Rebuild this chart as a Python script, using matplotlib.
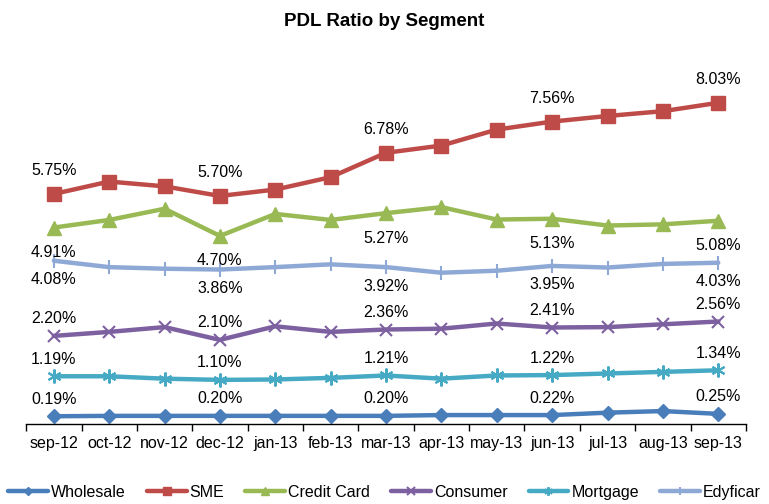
import numpy as np
import matplotlib.pyplot as plt

plt.rcParams['font.family'] = ['Liberation Sans', 'DejaVu Sans']

months = ['sep-12', 'oct-12', 'nov-12', 'dec-12', 'jan-13', 'feb-13', 'mar-13',
          'apr-13', 'may-13', 'jun-13', 'jul-13', 'aug-13', 'sep-13']

wholesale = [0.19, 0.20, 0.20, 0.20, 0.20, 0.20, 0.20, 0.22, 0.22, 0.22, 0.28, 0.32, 0.25]
sme = [5.75, 6.06, 5.94, 5.70, 5.86, 6.17, 6.78, 6.96, 7.36, 7.56, 7.70, 7.82, 8.03]
credit_card = [4.91, 5.10, 5.38, 4.70, 5.25, 5.10, 5.27, 5.42, 5.11, 5.13, 4.96, 4.99, 5.08]
consumer = [2.20, 2.30, 2.42, 2.10, 2.44, 2.30, 2.36, 2.38, 2.51, 2.41, 2.42, 2.49, 2.56]
mortgage = [1.19, 1.19, 1.13, 1.10, 1.11, 1.15, 1.21, 1.13, 1.21, 1.22, 1.26, 1.30, 1.34]
edyficar = [4.08, 3.92, 3.88, 3.86, 3.92, 3.99, 3.92, 3.78, 3.83, 3.95, 3.91, 4.00, 4.03]

labelled = [0, 3, 6, 9, 12]

# name, values, colour, marker, markersize, marker edge width, label offset (px)
series = [
    ('Wholesale', wholesale, '#4A7EBB', 'D', 7.5, 1.0, 17),
    ('SME', sme, '#BE4B48', 's', 10, 1.0, 23),
    ('Credit Card', credit_card, '#98B954', '^', 10, 1.0, -25),
    ('Consumer', consumer, '#7D60A0', 'x', 9, 1.5, 17),
    ('Mortgage', mortgage, '#46AAC5', (6, 2, 0), 10, 1.5, 17),
    ('Edyficar', edyficar, '#8FA9D6', '|', 10, 1.5, -19),
]

fig = plt.figure(figsize=(7.69, 5.04), dpi=100)
ax = fig.add_axes([0.034, 0.159, 0.936, 0.714])
x = np.arange(len(months))

for name, vals, col, mk, ms, mew, off in series:
    ax.plot(x, vals, color=col, lw=3.2, marker=mk, markersize=ms,
            markerfacecolor=col, markeredgecolor=col, markeredgewidth=mew,
            label=name, solid_capstyle='round')
    for i in labelled:
        ax.annotate(f'{vals[i]:.2f}%', (x[i], vals[i]), xytext=(0, off),
                    textcoords='offset pixels', ha='center', va='center',
                    fontsize=11.5, color='black')

ax.set_xlim(-0.5, 12.5)
ax.set_ylim(0, 9)
ax.set_xticks(x)
ax.set_xticklabels(months, fontsize=11.5)
ax.set_xticks(np.arange(-0.5, 13, 1), minor=True)
ax.tick_params(axis='x', which='major', length=0, pad=9)
ax.tick_params(axis='x', which='minor', length=5, width=1, direction='out')
ax.set_yticks([])
for s in ['left', 'top', 'right']:
    ax.spines[s].set_visible(False)
ax.spines['bottom'].set_linewidth(1)

fig.suptitle('PDL Ratio by Segment', fontsize=13.5, fontweight='bold', y=0.975)

fig.legend(loc='lower center', bbox_to_anchor=(0.5, -0.02), ncol=6, frameon=False,
           fontsize=11.5, handlelength=2.5, handletextpad=0.2, columnspacing=1.3,
           markerscale=0.6)

plt.savefig('out.png')
